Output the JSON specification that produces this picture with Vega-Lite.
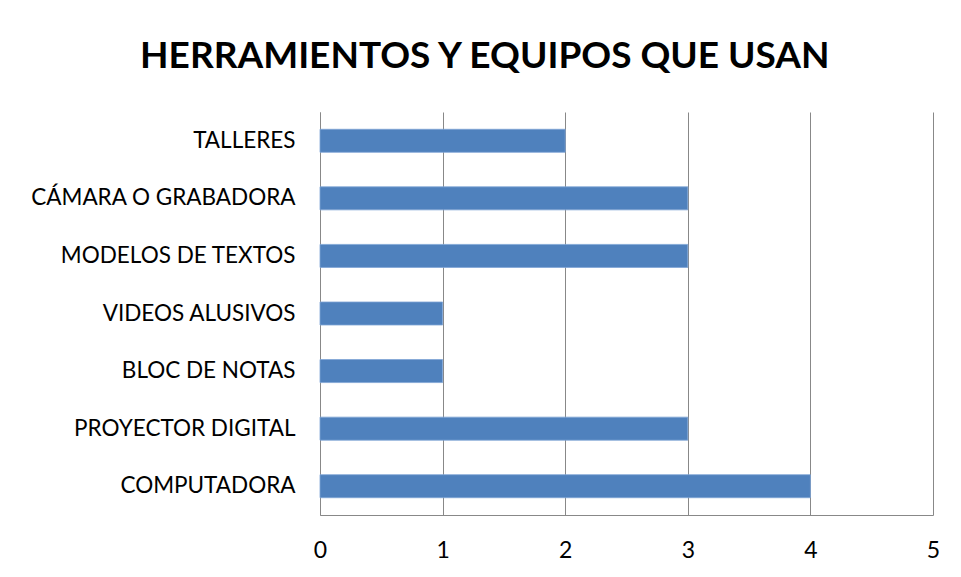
{
  "$schema": "https://vega.github.io/schema/vega-lite/v6.json",
  "width": 613,
  "height": 403,
  "padding": {"left": 29, "top": 38, "right": 26, "bottom": 10},
  "background": "white",
  "title": {
    "text": "HERRAMIENTOS Y EQUIPOS QUE USAN",
    "font": "Lato",
    "fontSize": 37,
    "fontWeight": "bold",
    "color": "#000000",
    "anchor": "middle",
    "frame": "bounds",
    "offset": 36
  },
  "data": {
    "values": [
      {"item": "TALLERES", "n": 2},
      {"item": "CÁMARA O GRABADORA", "n": 3},
      {"item": "MODELOS DE TEXTOS", "n": 3},
      {"item": "VIDEOS ALUSIVOS", "n": 1},
      {"item": "BLOC DE NOTAS", "n": 1},
      {"item": "PROYECTOR DIGITAL", "n": 3},
      {"item": "COMPUTADORA", "n": 4}
    ]
  },
  "mark": {"type": "bar", "color": "#4F81BD", "stroke": "#7FA5D6", "strokeWidth": 0.8},
  "encoding": {
    "y": {
      "field": "item",
      "type": "nominal",
      "sort": null,
      "scale": {"paddingInner": 0.6, "paddingOuter": 0.3},
      "axis": {
        "title": null,
        "ticks": false,
        "labelFont": "Lato",
        "labelFontSize": 22.5,
        "labelLimit": 500,
        "labelColor": "#000000",
        "labelPadding": 25,
        "domainColor": "#888888",
        "domainWidth": 1
      }
    },
    "x": {
      "field": "n",
      "type": "quantitative",
      "scale": {"domain": [0, 5], "nice": false},
      "axis": {
        "title": null,
        "values": [0, 1, 2, 3, 4, 5],
        "ticks": false,
        "labelFont": "Lato",
        "labelFontSize": 23,
        "labelColor": "#000000",
        "labelPadding": 24,
        "labelFlush": false,
        "grid": true,
        "gridColor": "#888888",
        "gridWidth": 1,
        "domainColor": "#888888",
        "domainWidth": 1
      }
    }
  },
  "config": {"view": {"stroke": null}}
}
